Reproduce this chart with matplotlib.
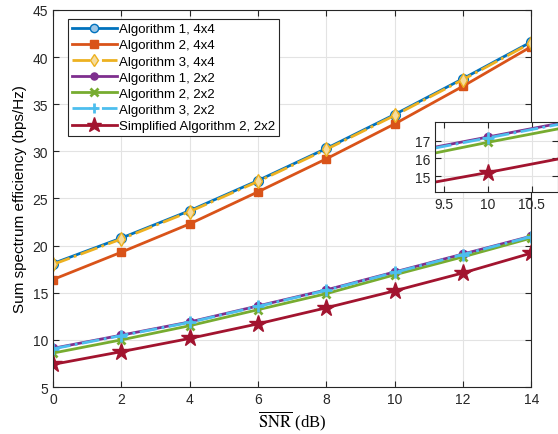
import numpy as np
import matplotlib
matplotlib.use("Agg")
import matplotlib.pyplot as plt

snr = [0, 2, 4, 6, 8, 10, 12, 14]

alg1_4x4 = [18.1, 20.8, 23.7, 26.9, 30.3, 33.9, 37.7, 41.6]
alg2_4x4 = [16.4, 19.3, 22.3, 25.7, 29.2, 32.9, 36.9, 41.1]
alg3_4x4 = [18.0, 20.7, 23.6, 26.8, 30.2, 33.8, 37.6, 41.5]
alg1_2x2 = [9.1, 10.5, 11.9, 13.6, 15.3, 17.2, 19.1, 21.0]
alg2_2x2 = [8.6, 10.0, 11.5, 13.2, 14.9, 16.9, 18.8, 20.8]
alg3_2x2 = [9.05, 10.45, 11.85, 13.55, 15.25, 17.15, 19.05, 20.95]
simp_2x2 = [7.4, 8.75, 10.15, 11.7, 13.4, 15.2, 17.1, 19.2]

labels = ["Algorithm 1, 4x4", "Algorithm 2, 4x4", "Algorithm 3, 4x4",
          "Algorithm 1, 2x2", "Algorithm 2, 2x2", "Algorithm 3, 2x2",
          "Simplified Algorithm 2, 2x2"]

plt.rcParams['mathtext.fontset'] = 'stix'
plt.rcParams['font.family'] = ['Liberation Sans', 'DejaVu Sans']

series = [
    (alg1_4x4, "#0072BD", "-", "o", dict(mfc="#9cc6e6", ms=7)),
    (alg2_4x4, "#D95319", "-", "s", dict(mfc="#D95319", ms=6)),
    (alg3_4x4, "#EDB120", "-.", "d", dict(mfc="#f6dc9c", ms=7)),
    (alg1_2x2, "#7E2F8E", "-", "o", dict(mfc="#7E2F8E", ms=6)),
    (alg2_2x2, "#77AC30", "-", "x", dict(ms=6, mew=2)),
    (alg3_2x2, "#4DBEEE", "-.", "+", dict(ms=8, mew=2)),
    (simp_2x2, "#A2142F", "-", "*", dict(mfc="#A2142F", ms=13)),
]


def draw(ax):
    for ys, c, ls, m, kw in series:
        ax.plot(snr, ys, color=c, ls=ls, lw=2, marker=m, mec=c, **kw)


def style(ax):
    ax.grid(True, color="#e3e3e3", lw=0.8)
    ax.set_axisbelow(True)
    ax.tick_params(direction="in", top=True, right=True, labelsize=10,
                   colors="#262626", length=4)
    for s in ax.spines.values():
        s.set_color("#262626")
        s.set_linewidth(0.8)


fig = plt.figure(figsize=(5.58, 4.35), dpi=100)
ax = fig.add_axes([0.095, 0.108, 0.857, 0.867])
draw(ax)
style(ax)
ax.set_xlim(0, 14)
ax.set_ylim(5, 45)
ax.set_xticks(range(0, 15, 2))
ax.set_yticks(range(5, 46, 5))
ax.set_ylabel("Sum spectrum efficiency (bps/Hz)", fontsize=11, labelpad=4)
ax.set_xlabel(r"$\overline{\mathrm{SNR}}$ (dB)", fontsize=12,
              family="Liberation Serif", labelpad=2)
leg = ax.legend(labels, loc="upper left", bbox_to_anchor=(0.031, 0.976),
                fontsize=9.5, handlelength=3.4, markerscale=0.85,
                fancybox=False, framealpha=1, edgecolor="#262626",
                borderaxespad=0, labelspacing=0.3, borderpad=0.3,
                handletextpad=0.2)
leg.get_frame().set_linewidth(0.8)

ins = fig.add_axes([0.7796, 0.5563, 0.2204, 0.161])
draw(ins)
style(ins)
ins.set_xlim(9.4, 10.8)
ins.set_ylim(14.1, 18.05)
ins.set_xticks([9.5, 10, 10.5])
ins.set_xticklabels(["9.5", "10", "10.5"])
ins.set_yticks([15, 16, 17])

fig.savefig("out.png", dpi=100)
